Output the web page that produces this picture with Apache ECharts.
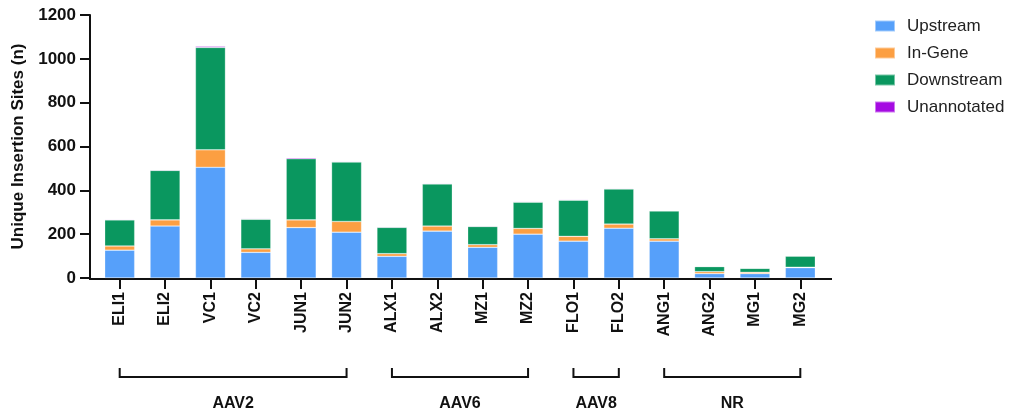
<!DOCTYPE html>
<html>
<head>
<meta charset="utf-8">
<script src="https://cdn.jsdelivr.net/npm/echarts@6/dist/echarts.min.js"></script>
<style>
  html, body { margin: 0; padding: 0; background: #fff; }
  #chart { width: 1010px; height: 417px; }
</style>
</head>
<body>
<div id="chart"></div>
<script>
// Samples on the x axis
const categories = ['ELI1', 'ELI2', 'VC1', 'VC2', 'JUN1', 'JUN2', 'ALX1', 'ALX2', 'MZ1', 'MZ2', 'FLO1', 'FLO2', 'ANG1', 'ANG2', 'MG1', 'MG2'];

// Insertion site counts per annotation class
const upstream    = [127, 237, 505, 117, 230, 209,  99, 214, 140, 200, 168, 227, 168, 20, 20, 47];
const inGene      = [ 19,  28,  80,  16,  35,  49,  12,  23,  12,  26,  22,  19,  11,  9,  6,  2];
const downstream  = [119, 226, 467, 135, 279, 271, 120, 192,  83, 120, 165, 160, 127, 23, 18, 51];
const unannotated = [  3,   3,   5,   3,   5,   3,   3,   3,   3,   3,   3,   3,   2,  1,  1,  1];

// Serotype groups: label and first/last sample index
const groupNames = ['AAV2', 'AAV6', 'AAV8', 'NR'];
const groupStart = [0, 6, 10, 12];
const groupEnd   = [5, 9, 11, 15];

const yTicks = [0, 200, 400, 600, 800, 1000, 1200];

const COLORS = {
  up: '#56A0FA',
  gene: '#FC9F42',
  down: '#0A975F',
  none: '#A50BE2'
};
const INK = '#111';
const FONT = '"Liberation Sans", Arial, Helvetica, sans-serif';

const chart = echarts.init(document.getElementById('chart'), null, { renderer: 'canvas' });

function barSeries(name, data, color) {
  return {
    name: name,
    type: 'bar',
    stack: 'sites',
    data: data,
    barWidth: 30,
    itemStyle: { color: color, borderColor: 'rgba(255,255,255,0.45)', borderWidth: 0.6 },
    emphasis: { disabled: true }
  };
}

chart.setOption({
  animation: false,
  textStyle: { fontFamily: FONT },
  grid: { left: 97, right: 187, top: 15, bottom: 139, containLabel: false },
  legend: {
    orient: 'vertical',
    left: 874,
    top: 16,
    padding: 0,
    itemWidth: 20,
    itemHeight: 11,
    itemGap: 7,
    icon: 'rect',
    textStyle: { fontSize: 17, color: '#222', fontFamily: FONT, lineHeight: 20, padding: [0, 0, 0, 7] },
    data: ['Upstream', 'In-Gene', 'Downstream', 'Unannotated']
  },
  xAxis: {
    type: 'category',
    data: categories,
    boundaryGap: true,
    axisLine: { show: false },
    axisTick: { show: true, alignWithLabel: true, length: 11, lineStyle: { color: INK, width: 2 } },
    axisLabel: {
      rotate: 90,
      margin: 14,
      fontSize: 16,
      fontWeight: 'bold',
      color: INK,
      fontFamily: FONT,
      interval: 0
    }
  },
  yAxis: {
    type: 'value',
    min: 0,
    max: 1200,
    interval: 200,
    offset: 7,
    name: 'Unique Insertion Sites (n)',
    nameLocation: 'middle',
    nameGap: 63,
    nameRotate: 90,
    nameTextStyle: { fontSize: 17, fontWeight: 'bold', color: INK, fontFamily: FONT },
    splitLine: { show: false },
    axisLine: { show: true, lineStyle: { color: INK, width: 2 } },
    axisTick: { show: true, length: 10, lineStyle: { color: INK, width: 2 } },
    axisLabel: {
      margin: 14,
      fontSize: 17,
      fontWeight: 'bold',
      color: INK,
      fontFamily: FONT,
      formatter: v => (yTicks.indexOf(v) >= 0 ? String(v) : '')
    }
  },
  series: [
    barSeries('Upstream', upstream, COLORS.up),
    barSeries('In-Gene', inGene, COLORS.gene),
    barSeries('Downstream', downstream, COLORS.down),
    barSeries('Unannotated', unannotated, COLORS.none)
  ]
});

// Baseline axis line and serotype brackets, placed from the axis scales
function drawExtras() {
  const y0 = chart.convertToPixel({ yAxisIndex: 0 }, 0);
  const yAxisX = 90;
  const firstX = chart.convertToPixel({ xAxisIndex: 0 }, 0);
  const lastX = chart.convertToPixel({ xAxisIndex: 0 }, categories.length - 1);
  const band = (lastX - firstX) / (categories.length - 1);
  const right = lastX + band / 2 + 9;

  const elements = [{
    type: 'line',
    shape: { x1: yAxisX - 1, y1: y0 + 1, x2: right, y2: y0 + 1 },
    style: { stroke: INK, lineWidth: 2 },
    silent: true
  }];

  const bracketY = 377;
  const bracketTop = 368;
  const labelY = 403.5;

  groupNames.forEach((name, i) => {
    const xs = chart.convertToPixel({ xAxisIndex: 0 }, groupStart[i]);
    const xe = chart.convertToPixel({ xAxisIndex: 0 }, groupEnd[i]);
    elements.push({
      type: 'polyline',
      shape: { points: [[xs, bracketTop], [xs, bracketY], [xe, bracketY], [xe, bracketTop]] },
      style: { stroke: INK, lineWidth: 2, fill: null, lineJoin: 'miter' },
      silent: true
    });
    elements.push({
      type: 'text',
      x: (xs + xe) / 2,
      y: labelY,
      style: {
        text: name,
        fontSize: 16,
        fontWeight: 'bold',
        fontFamily: FONT,
        fill: INK,
        align: 'center',
        verticalAlign: 'middle'
      },
      silent: true
    });
  });

  chart.setOption({ graphic: { elements: elements } });
}

drawExtras();
</script>
</body>
</html>
